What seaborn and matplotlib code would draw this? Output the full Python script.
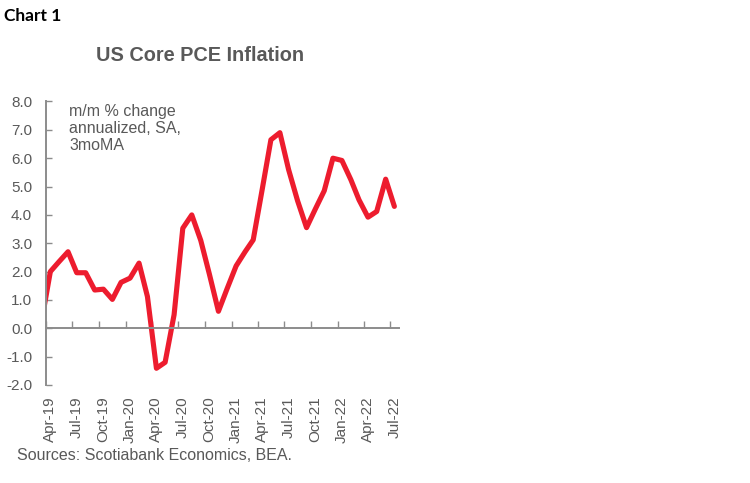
import matplotlib
matplotlib.use("Agg")
import numpy as np
import pandas as pd
import matplotlib.pyplot as plt
import matplotlib.dates as mdates
import seaborn as sns

# ---- data (monthly, 3-month moving average, m/m % annualized) ----
months = pd.date_range("2019-03-01", "2022-07-01", freq="MS")
values = [0.2,
          2.0, 2.35, 2.7, 1.96, 1.96, 1.35, 1.38, 1.02, 1.62,
          1.77, 2.3, 1.12, -1.41, -1.2, 0.48, 3.53, 4.0, 3.1, 1.9, 0.6, 1.4,
          2.2, 2.7, 3.12, 4.9, 6.65, 6.9, 5.6, 4.5, 3.55, 4.2, 4.85, 6.0,
          5.92, 5.24, 4.53, 3.92, 4.12, 5.26, 4.3]
quarter_starts = pd.date_range("2019-04-01", "2022-07-01", freq="3MS")
quarter_labels = [d.strftime("%b-%y") for d in quarter_starts]
y_ticks = [-2.0, -1.0, 0.0, 1.0, 2.0, 3.0, 4.0, 5.0, 6.0, 7.0, 8.0]

# points sit in the middle of each month slot
df = pd.DataFrame({"date": months + pd.Timedelta(days=15), "value": values})

sns.set_theme(style="white")
plt.rcParams["font.family"] = ["Liberation Sans", "DejaVu Sans"]

GRAY_TXT = "#595959"
GRAY_AX = "#8c8c8c"
RED = "#ED1C2E"

fig = plt.figure(figsize=(7.5, 4.83), dpi=100)
ax = fig.add_axes([46 / 750, 1 - 385 / 483, (399 - 46) / 750, (385 - 101.5) / 483])

sns.lineplot(data=df, x="date", y="value", ax=ax, color=RED, linewidth=3.7)

ax.set_xlim(pd.Timestamp("2019-04-01"), pd.Timestamp("2022-08-01"))
ax.set_ylim(-2, 8)
ax.set_xlabel("")
ax.set_ylabel("")
ax.grid(False)

# y axis
ax.set_yticks(y_ticks)
ax.set_yticklabels([f"{v:.1f}" for v in y_ticks])
ax.tick_params(axis="y", direction="in", length=4, width=1, color=GRAY_AX,
               labelsize=11, labelcolor=GRAY_TXT, pad=10, left=True)
for s in ["top", "right"]:
    ax.spines[s].set_visible(False)
ax.spines["left"].set_color(GRAY_AX)
ax.spines["left"].set_linewidth(1.4)

# x axis line at zero with upward tick marks
ax.spines["bottom"].set_position(("data", 0))
ax.spines["bottom"].set_color(GRAY_AX)
ax.spines["bottom"].set_linewidth(1.4)
ax.set_xticks(mdates.date2num(quarter_starts))
ax.tick_params(axis="x", direction="in", length=5, width=1, color=GRAY_AX,
               labelbottom=False, bottom=True)

# labels at the bottom of the plot, centred on the month slots
sec = ax.secondary_xaxis("bottom")
sec.spines["bottom"].set_visible(False)
sec.set_xticks(mdates.date2num(quarter_starts + pd.Timedelta(days=15)), quarter_labels)
sec.tick_params(axis="x", length=0, labelsize=11, labelcolor=GRAY_TXT,
                labelrotation=90, pad=8)

# texts
fig.text(4 / 750, 1 - 20.7 / 483, "Chart 1", fontsize=12.5, fontweight="bold",
         color="black", family=["Lato", "DejaVu Sans"], va="baseline", ha="left")
fig.text(200 / 750, 1 - 61 / 483, "US Core PCE Inflation", fontsize=14.3,
         fontweight="bold", color=GRAY_TXT, ha="center", va="baseline")
ax.text(69 / 750, 1 - 104 / 483, "m/m % change\nannualized, SA,\n3moMA",
        transform=fig.transFigure, fontsize=11.5, color=GRAY_TXT,
        ha="left", va="top", linespacing=1.15)
fig.text(17 / 750, 1 - 460 / 483, "Sources: Scotiabank Economics, BEA.",
         fontsize=11.5, color=GRAY_TXT, ha="left", va="baseline")

fig.savefig("out.png", dpi=100, facecolor="white")
